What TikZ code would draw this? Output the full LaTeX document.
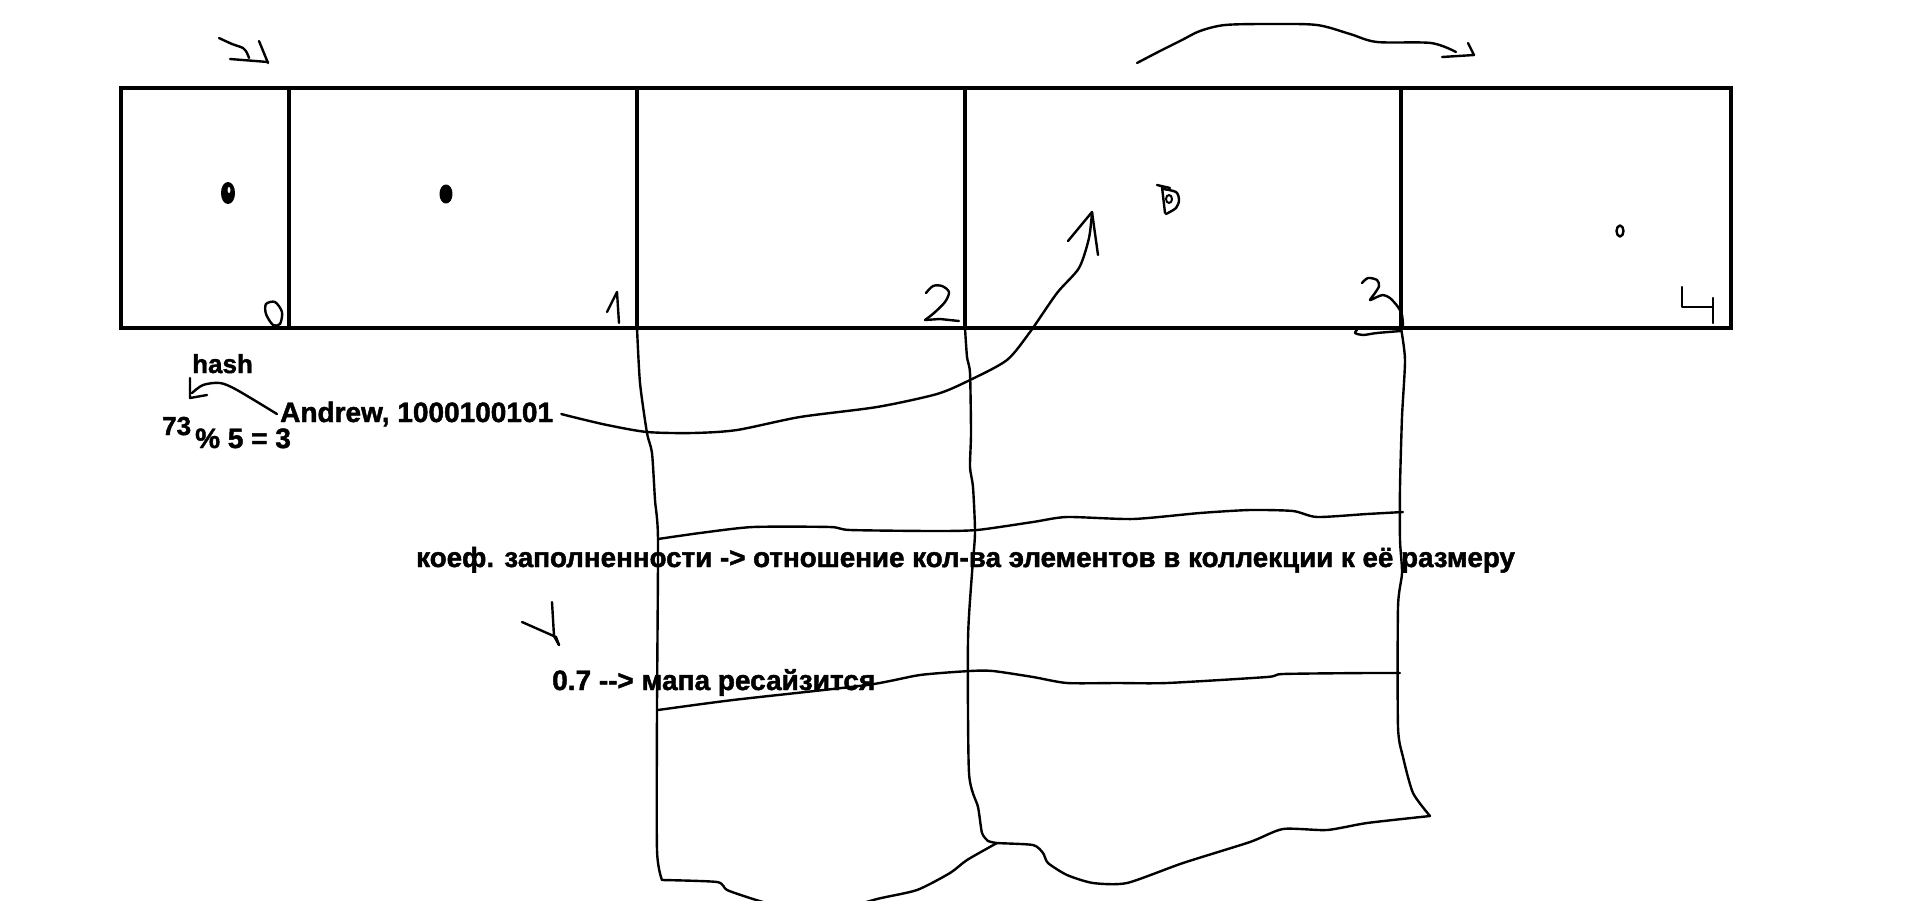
\documentclass[tikz,border=0pt]{standalone}
\usepackage{fontspec}
\setmainfont{Liberation Sans}
\newfontfamily\heavyfont{Liberation Sans Bold}[FakeBold=1.6]
\begin{document}
\begin{tikzpicture}[x=1pt,y=-1pt,
  cell/.style={draw, line width=4.6pt, inner sep=0pt, outer sep=0pt, minimum height=240pt},
  pen/.style={line width=2.4pt, line cap=round, line join=round},
  txt/.style={inner sep=0pt, anchor=base west, font=\fontsize{28}{30}\heavyfont},
  smalltxt/.style={inner sep=0pt, anchor=base west, font=\fontsize{26}{28}\heavyfont}]
\useasboundingbox (0,0) rectangle (1912,900);
\fill[white] (0,0) rectangle (1912,900);
\begin{scope}
\clip (0,0) rectangle (1912,900);

% hash table cells
\node[cell, minimum width=168pt] (c0) at (205,208) {};
\node[cell, minimum width=348pt] (c1) at (463,208) {};
\node[cell, minimum width=328pt] (c2) at (801,208) {};
\node[cell, minimum width=436pt] (c3) at (1183,208) {};
\node[cell, minimum width=330pt] (c4) at (1566,208) {};

% scribbled contents
\draw[pen, line width=3pt, fill=black] (228,193) ellipse [x radius=5.5, y radius=9.5];
\fill[white] (229,190) ellipse [x radius=1.5, y radius=3];
\draw[pen, line width=3pt, fill=black] (446,194) ellipse [x radius=5, y radius=8];
\draw[pen] (1157,185) -- (1170,188);
\draw[pen] (1162,187) -- (1165,213);
\draw[pen] plot[smooth] coordinates {(1163,189) (1176,192) (1179,200) (1176,208) (1166,214)};
\draw[pen, line width=2pt] (1169,199) ellipse [x radius=3, y radius=4];
\draw[pen] (1620,231) ellipse [x radius=3.5, y radius=5.5];

% index digits
\draw[pen] plot[smooth cycle] coordinates {(266,304) (275,302) (282,312) (280,324) (273,325) (266,314)};
\draw[pen] (607,312) -- (617,292) -- (619,323);
\draw[pen] plot[smooth] coordinates {(926,293) (933,286) (942,286) (949,292) (945,302) (934,313) (925,320)};
\draw[pen] (925,320) -- (940,319) -- (959,321);
\draw[pen] plot[smooth] coordinates {(1362,283) (1368,278) (1377,280) (1379,286) (1375,293) (1370,300) (1377,297) (1383,295) (1390,298) (1398,307) (1402,315) (1403,327)};
\draw[pen] plot[smooth] coordinates {(1401,331) (1377,333) (1363,335) (1355,333) (1357,330)};
\draw[pen] (1682,287) -- (1682,307) -- (1713,307);
\draw[pen] (1713,298) -- (1713,323);

% top arrows
\draw[pen] plot[smooth] coordinates {(219,38) (232,44) (243,48) (247,53) (249,58)};
\draw[pen] (230,59) -- (268,62);
\draw[pen] (259,41) -- (268,63);
\coordinate (ta0) at (1137,63);
\coordinate (ta1) at (1474,55);
\draw[pen] plot[smooth] coordinates {(ta0) (1160,51) (1182,40) (1200,31) (1225,25) (1270,24) (1317,25) (1350,34) (1377,42) (1431,43) (1456,52)};
\draw[pen] (1442,57) -- (ta1) -- (1468,43);

% chains below buckets
\draw[pen] plot[smooth, tension=0.4] coordinates {(c2.south west) (640,383) (647,433) (652,453) (655,500) (658,540) (657,707) (657,850) (662,880)};
\draw[pen] plot[smooth, tension=0.4] coordinates {(662,880) (717,882) (727,890) (753,899) (790,910)};
\draw[pen] plot[smooth, tension=0.4] coordinates {(c3.south west) (967,357) (970,373) (971,433) (970,467) (973,487) (975,533) (972,573) (968,640) (969,773) (978,807) (982,833) (988,841)};
\draw[pen] plot[smooth, tension=0.4] coordinates {(988,841) (997,843) (1033,845) (1043,853) (1048,863) (1067,875) (1093,883) (1127,883) (1183,863) (1250,842) (1283,829) (1327,830) (1367,823) (1430,816)};
\draw[pen] plot[smooth, tension=0.4] coordinates {(1430,816) (1413,793) (1403,757) (1398,727) (1398,607) (1402,573) (1400,540) (1400,487) (1402,417) (1405,360) (c4.south west)};
\draw[pen] plot[smooth, tension=0.4] coordinates {(997,843) (967,860) (950,873) (917,890) (877,899) (840,910)};
\draw[pen] plot[smooth, tension=0.4] coordinates {(658,539) (700,533) (753,527) (830,527) (850,530) (933,531) (977,530) (1033,522) (1067,517) (1133,519) (1200,513) (1250,510) (1293,511) (1317,517) (1367,514) (1403,512)};
\draw[pen] plot[smooth, tension=0.4] coordinates {(658,710) (733,700) (867,685) (920,675) (970,671) (993,671) (1033,677) (1067,683) (1117,683) (1167,683) (1267,677) (1283,674) (1367,673) (1400,673)};

% texts
\node[txt] (andrew) at (280,422) {Andrew, 1000100101};
\node[smalltxt] (hash) at (192,373) {hash};
\node[smalltxt] (n73) at (162,435) {73};
\node[txt] (mod) at (195,448) {\% 5 = 3};
\node[txt, font=\fontsize{27.75}{30}\heavyfont] (load) at (416,567) {коеф. заполненности -\kern0pt> отношение кол-ва элементов в коллекции к её размеру};
\node[txt] (resize) at (552,690) {0.7 -\kern0pt-\kern0pt> мапа ресайзится};

% Andrew -> bucket 3
\coordinate (tip3) at (1092,212);
\draw[pen] plot[smooth, tension=0.45] coordinates {([xshift=8pt]andrew.east) (573,417) (607,425) (647,432) (693,433) (737,430) (800,417) (877,407) (937,394) (970,380) (1007,360) (1030,332) (1057,293) (1079,268) (1089,238) (tip3)};
\draw[pen] (1068,241) -- (tip3) -- (1098,255);

% Andrew -> hash
\coordinate (hashtip) at (190,398);
\draw[pen] plot[smooth] coordinates {([xshift=-3pt]andrew.west) (237,390) (220,383) (203,385) (192,393)};
\draw[pen] (190,378) -- (hashtip) -- (207,395);

% check mark
\draw[pen] (522,622) -- (556,637) -- (559,645);
\draw[pen] (552,602) -- (554,636) -- (559,645);
\end{scope}
\end{tikzpicture}
\end{document}
